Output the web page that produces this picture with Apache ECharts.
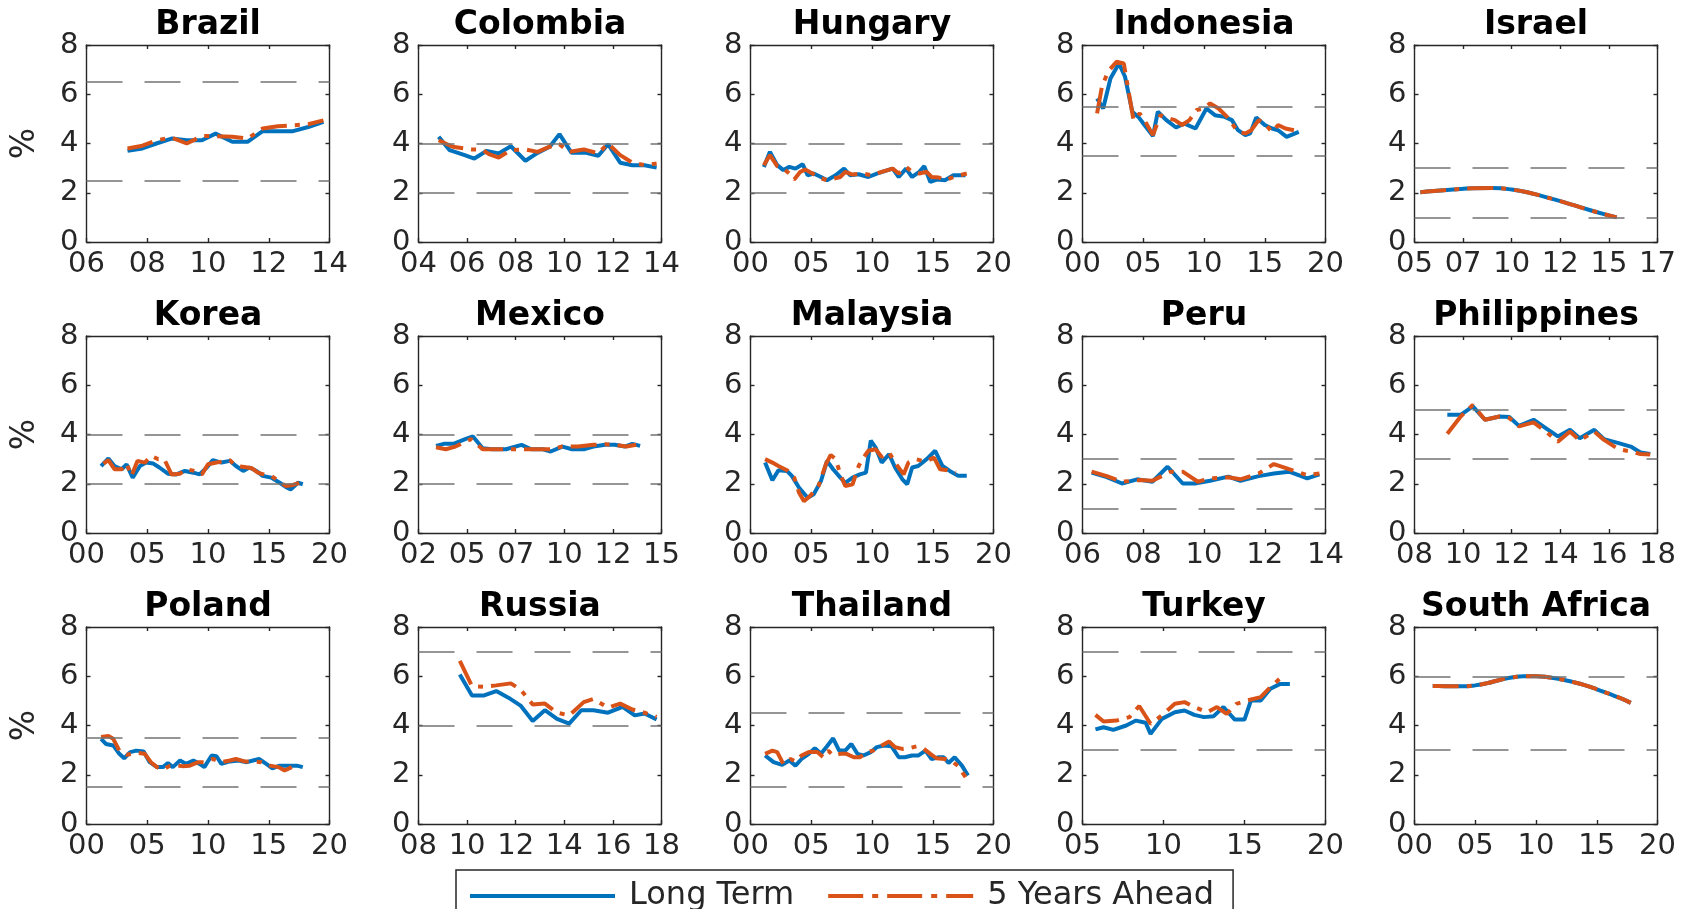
<!DOCTYPE html>
<html><head><meta charset="utf-8">
<script src="https://cdn.jsdelivr.net/npm/echarts@6/dist/echarts.min.js"></script>
<style>html,body{margin:0;padding:0;background:#fff}#c{width:1681px;height:909px}</style>
</head><body><div id="c"></div>
<script>
const countries = ['Brazil','Colombia','Hungary','Indonesia','Israel','Korea','Mexico','Malaysia','Peru','Philippines','Poland','Russia','Thailand','Turkey','South Africa'];
const xMin  = [2006,2004,2000,2000,2005, 2000,2002.5,2000,2006,2008, 2000,2008,2000,2005,2000];
const xMax  = [2014,2014,2020,2020,2017.5, 2020,2015,2020,2014,2018, 2020,2018,2020,2020,2020];
const xStep = [2,2,5,5,2.5, 5,2.5,5,2,2, 5,2,5,5,5];
const yTicks = [0,2,4,6,8];
const bands = [[2.5,6.5],[2,4],[2,4],[3.5,5.5],[1,3],[2,4],[2,4],[],[1,3],[3,5],[1.5,3.5],[4,7],[1.5,4.5],[3,7],[3,6]];

const brazilLT = [[2007.35,3.70],[2007.84,3.80],[2008.3,4.00],[2008.8,4.20],[2009.3,4.13],[2009.8,4.13],[2010.25,4.40],[2010.8,4.07],[2011.3,4.07],[2011.8,4.50],[2012.3,4.50],[2012.8,4.50],[2013.3,4.67],[2013.8,4.88]];
const brazil5Y = [[2007.35,3.80],[2007.84,3.91],[2008.3,4.13],[2008.8,4.24],[2009.3,4.00],[2009.8,4.30],[2010.25,4.30],[2010.8,4.27],[2011.3,4.20],[2011.8,4.61],[2012.3,4.70],[2012.8,4.74],[2013.3,4.78],[2013.8,4.94]];

const colombiaLT = [[2004.83,4.27],[2005.28,3.73],[2005.9,3.53],[2006.3,3.39],[2006.8,3.70],[2007.3,3.60],[2007.8,3.89],[2008.4,3.30],[2008.9,3.62],[2009.4,3.87],[2009.8,4.38],[2010.3,3.62],[2010.9,3.62],[2011.4,3.50],[2011.8,3.97],[2012.3,3.22],[2012.8,3.12],[2013.3,3.12],[2013.8,3.02]];
const colombia5Y = [[2004.83,4.13],[2005.4,3.87],[2006.2,3.76],[2006.6,3.76],[2006.9,3.57],[2007.3,3.43],[2007.8,3.73],[2008.4,3.76],[2008.9,3.66],[2009.4,3.87],[2009.8,3.97],[2010.2,3.66],[2010.8,3.76],[2011.4,3.60],[2011.8,4.00],[2012.3,3.53],[2012.8,3.22],[2013.3,3.12],[2013.8,3.19]];

const hungaryLT = [[2001.1,3.05],[2001.6,3.66],[2002.2,3.12],[2002.7,2.92],[2003.2,3.05],[2003.7,2.98],[2004.3,3.16],[2004.7,2.71],[2005.2,2.78],[2005.8,2.64],[2006.3,2.51],[2007.0,2.71],[2007.7,2.98],[2008.2,2.71],[2008.9,2.75],[2009.7,2.64],[2010.4,2.78],[2011.1,2.89],[2011.7,2.98],[2012.2,2.64],[2012.8,2.98],[2013.3,2.64],[2013.9,2.85],[2014.3,3.08],[2014.8,2.44],[2015.4,2.54],[2016.0,2.51],[2016.7,2.71],[2017.7,2.71]];
const hungary5Y = [[2001.1,3.12],[2001.6,3.53],[2002.2,3.08],[2002.7,2.98],[2003.2,2.78],[2003.6,2.54],[2004.1,2.85],[2004.5,2.94],[2005.1,2.78],[2005.6,2.62],[2006.3,2.51],[2007.4,2.64],[2007.8,2.85],[2008.4,2.74],[2009.2,2.78],[2010.0,2.71],[2010.8,2.85],[2011.7,2.98],[2012.2,2.78],[2012.8,3.05],[2013.3,2.85],[2013.9,2.78],[2014.5,2.85],[2014.9,2.64],[2015.5,2.62],[2016.0,2.51],[2016.7,2.64],[2017.8,2.78]];

const indonesiaLT = [[2001.2,5.83],[2001.7,5.42],[2002.3,6.64],[2003.0,7.25],[2003.5,6.71],[2004.1,5.29],[2004.6,5.08],[2005.1,4.75],[2005.8,4.30],[2006.2,5.29],[2006.9,4.95],[2007.7,4.65],[2008.4,4.81],[2009.3,4.61],[2010.2,5.42],[2010.9,5.15],[2011.7,5.08],[2012.3,4.95],[2012.8,4.54],[2013.4,4.34],[2013.8,4.41],[2014.3,5.06],[2015.0,4.75],[2015.6,4.61],[2016.1,4.54],[2016.8,4.27],[2017.8,4.47]];
const indonesia5Y = [[2001.2,5.22],[2001.6,6.31],[2002.1,6.92],[2002.8,7.32],[2003.4,7.25],[2003.8,6.10],[2004.2,4.95],[2004.7,5.22],[2005.1,4.95],[2005.8,4.34],[2006.4,5.15],[2007.1,5.02],[2007.6,4.95],[2008.2,4.75],[2008.8,4.95],[2009.4,5.36],[2010.0,5.42],[2010.5,5.63],[2011.2,5.42],[2011.9,5.08],[2012.4,4.75],[2012.8,4.47],[2013.4,4.41],[2013.9,4.54],[2014.5,4.95],[2015.0,4.81],[2015.6,4.47],[2016.1,4.75],[2016.7,4.61],[2017.4,4.54]];

const israelLT = [[2005.3,2.02],[2006,2.07],[2007,2.13],[2008,2.18],[2009,2.19],[2010,2.13],[2011,1.98],[2012,1.77],[2013,1.54],[2014,1.30],[2015,1.08],[2015.4,1.00]];
const israel5Y = [[2005.3,2.02],[2006,2.07],[2007,2.13],[2008,2.18],[2009,2.19],[2010,2.13],[2011,1.98],[2012,1.77],[2013,1.54],[2014,1.30],[2015,1.08],[2015.4,1.00]];

const koreaLT = [[2001.2,2.72],[2001.8,3.03],[2002.3,2.72],[2002.9,2.59],[2003.3,2.79],[2003.8,2.25],[2004.4,2.72],[2004.9,2.86],[2005.5,2.82],[2006.0,2.66],[2006.7,2.41],[2007.4,2.38],[2008.1,2.52],[2008.8,2.45],[2009.3,2.38],[2009.9,2.66],[2010.4,2.96],[2011.1,2.86],[2011.8,2.93],[2012.3,2.72],[2012.9,2.52],[2013.4,2.66],[2014.0,2.52],[2014.5,2.32],[2015.2,2.25],[2015.9,2.04],[2016.4,1.87],[2016.8,1.77],[2017.4,2.04],[2017.8,1.98]];
const korea5Y = [[2001.4,2.82],[2001.8,2.96],[2002.3,2.59],[2002.9,2.59],[2003.3,2.82],[2003.7,2.32],[2004.2,2.93],[2004.8,2.86],[2005.3,3.13],[2005.9,3.00],[2006.4,3.00],[2007.0,2.38],[2007.7,2.41],[2008.2,2.59],[2008.9,2.52],[2009.5,2.38],[2010.0,2.79],[2010.7,2.86],[2011.8,2.96],[2012.3,2.72],[2013.0,2.68],[2013.6,2.63],[2014.1,2.45],[2014.7,2.36],[2015.2,2.32],[2015.9,2.08],[2016.4,1.91],[2017.0,1.95],[2017.5,2.04]];

const mexicoLT = [[2003.4,3.54],[2003.8,3.62],[2004.3,3.62],[2004.9,3.81],[2005.3,3.92],[2005.8,3.44],[2006.3,3.40],[2007.0,3.40],[2007.8,3.58],[2008.3,3.40],[2008.9,3.40],[2009.3,3.31],[2009.9,3.51],[2010.4,3.40],[2011.0,3.40],[2011.5,3.51],[2012.1,3.58],[2012.6,3.58],[2013.1,3.51],[2013.5,3.62],[2013.9,3.54]];
const mexico5Y = [[2003.4,3.48],[2003.9,3.40],[2004.4,3.51],[2005.2,3.81],[2005.8,3.40],[2007.0,3.40],[2007.8,3.40],[2008.3,3.40],[2009.3,3.40],[2009.9,3.51],[2010.7,3.51],[2011.5,3.58],[2012.1,3.60],[2012.6,3.58],[2013.2,3.51],[2013.7,3.58]];

const malaysiaLT = [[2001.2,2.86],[2001.8,2.14],[2002.3,2.55],[2003.0,2.52],[2003.4,2.32],[2004.0,1.84],[2004.7,1.43],[2005.2,1.57],[2005.8,2.11],[2006.3,2.93],[2006.8,2.59],[2007.4,2.25],[2007.8,2.04],[2008.4,2.25],[2009.0,2.38],[2009.5,2.45],[2009.9,3.75],[2010.3,3.47],[2010.8,2.86],[2011.4,3.20],[2011.9,2.66],[2012.5,2.18],[2012.9,1.98],[2013.3,2.66],[2013.8,2.72],[2014.5,3.00],[2015.2,3.34],[2015.8,2.72],[2016.4,2.52],[2017.1,2.32],[2017.8,2.32]];
const malaysia5Y = [[2001.2,3.00],[2001.8,2.86],[2002.3,2.72],[2003.0,2.55],[2003.6,2.25],[2004.0,1.63],[2004.4,1.29],[2004.9,1.50],[2005.6,1.91],[2006.2,2.79],[2006.6,3.17],[2007.0,3.00],[2007.4,2.38],[2007.8,1.91],[2008.4,1.98],[2008.9,2.72],[2009.3,3.06],[2009.7,3.34],[2010.3,3.40],[2010.8,3.09],[2011.4,3.27],[2011.9,2.86],[2012.6,2.38],[2013.0,2.86],[2013.6,3.00],[2014.4,2.90],[2015.1,3.06],[2015.6,2.59],[2016.2,2.55],[2016.9,2.45]];

const peruLT = [[2006.3,2.45],[2006.8,2.27],[2007.3,2.01],[2007.8,2.18],[2008.3,2.08],[2008.8,2.69],[2009.3,2.01],[2009.7,2.01],[2010.2,2.12],[2010.8,2.29],[2011.2,2.12],[2011.8,2.31],[2012.3,2.42],[2012.8,2.49],[2013.4,2.22],[2013.8,2.38]];
const peru5Y = [[2006.3,2.49],[2006.8,2.31],[2007.3,2.08],[2007.9,2.15],[2008.3,2.12],[2008.9,2.49],[2009.3,2.49],[2009.8,2.08],[2010.2,2.22],[2010.8,2.26],[2011.2,2.18],[2011.8,2.42],[2012.3,2.80],[2012.8,2.59],[2013.4,2.35],[2013.8,2.42]];

const philippinesLT = [[2009.35,4.80],[2009.9,4.80],[2010.4,5.14],[2010.9,4.60],[2011.5,4.73],[2011.9,4.71],[2012.3,4.35],[2012.9,4.60],[2013.4,4.26],[2013.9,3.92],[2014.4,4.19],[2014.8,3.85],[2015.4,4.19],[2015.8,3.81],[2016.4,3.65],[2016.9,3.51],[2017.3,3.27],[2017.7,3.21]];
const philippines5Y = [[2009.35,4.03],[2009.9,4.73],[2010.4,5.20],[2010.9,4.60],[2011.5,4.73],[2011.9,4.67],[2012.3,4.33],[2012.9,4.49],[2013.4,4.12],[2013.9,3.71],[2014.4,4.12],[2014.8,3.76],[2015.4,4.12],[2015.8,3.78],[2016.4,3.40],[2016.9,3.31],[2017.3,3.21],[2017.7,3.19]];

const polandLT = [[2001.2,3.46],[2001.6,3.25],[2002.2,3.19],[2002.7,2.85],[2003.1,2.67],[2003.6,2.92],[2004.1,2.98],[2004.7,2.94],[2005.2,2.51],[2005.8,2.31],[2006.3,2.31],[2006.7,2.48],[2007.1,2.31],[2007.7,2.58],[2008.2,2.44],[2008.8,2.58],[2009.3,2.44],[2009.7,2.31],[2010.3,2.78],[2010.7,2.75],[2011.1,2.44],[2011.8,2.54],[2012.5,2.58],[2013.2,2.51],[2013.7,2.58],[2014.2,2.64],[2014.8,2.44],[2015.3,2.26],[2015.9,2.37],[2016.6,2.37],[2017.3,2.37],[2017.8,2.31]];
const poland5Y = [[2001.2,3.53],[2001.8,3.57],[2002.2,3.46],[2002.7,2.98],[2003.3,2.81],[2003.7,2.85],[2004.2,2.89],[2004.8,2.85],[2005.3,2.51],[2005.8,2.31],[2006.3,2.21],[2006.8,2.35],[2007.4,2.37],[2007.9,2.35],[2008.5,2.37],[2009.2,2.51],[2009.7,2.51],[2010.4,2.64],[2011.1,2.51],[2011.8,2.58],[2012.3,2.64],[2013.0,2.54],[2013.7,2.54],[2014.4,2.51],[2015.1,2.37],[2015.8,2.31],[2016.3,2.17],[2016.9,2.31]];

const russiaLT = [[2009.7,6.07],[2010.2,5.22],[2010.7,5.22],[2011.2,5.40],[2011.7,5.13],[2012.2,4.81],[2012.7,4.18],[2013.2,4.62],[2013.7,4.27],[2014.2,4.08],[2014.7,4.62],[2015.2,4.62],[2015.8,4.52],[2016.4,4.76],[2016.9,4.41],[2017.3,4.49],[2017.8,4.24]];
const russia5Y = [[2009.7,6.62],[2010.2,5.60],[2010.7,5.57],[2011.2,5.63],[2011.8,5.71],[2012.2,5.46],[2012.7,4.85],[2013.2,4.89],[2013.7,4.52],[2014.2,4.41],[2014.8,4.95],[2015.2,5.08],[2015.8,4.72],[2016.3,4.89],[2016.8,4.65],[2017.3,4.52],[2017.8,4.35]];

const thailandLT = [[2001.2,2.78],[2001.9,2.51],[2002.6,2.40],[2003.2,2.58],[2003.7,2.37],[2004.2,2.64],[2004.8,2.85],[2005.3,3.08],[2005.8,2.85],[2006.3,3.16],[2006.8,3.48],[2007.3,2.98],[2007.8,2.98],[2008.3,3.25],[2008.8,2.85],[2009.3,2.78],[2009.9,2.92],[2010.4,3.12],[2011.0,3.19],[2011.6,3.16],[2012.2,2.71],[2012.7,2.71],[2013.3,2.78],[2013.8,2.78],[2014.4,2.98],[2014.9,2.64],[2015.5,2.71],[2015.9,2.71],[2016.3,2.48],[2016.8,2.71],[2017.4,2.37],[2017.9,1.97]];
const thailand5Y = [[2001.2,2.85],[2001.8,2.98],[2002.2,2.92],[2002.7,2.44],[2003.3,2.64],[2003.7,2.54],[2004.2,2.78],[2004.8,2.92],[2005.5,2.92],[2006.0,2.71],[2006.4,2.98],[2006.8,2.78],[2007.4,2.85],[2007.9,2.85],[2008.5,2.71],[2009.0,2.71],[2009.6,2.92],[2010.1,2.98],[2010.8,3.19],[2011.4,3.35],[2011.9,3.12],[2012.5,3.05],[2013.1,3.08],[2013.7,3.16],[2014.2,3.08],[2014.8,2.85],[2015.3,2.67],[2016.0,2.64],[2016.6,2.54],[2017.1,2.35],[2017.7,1.90]];

const turkeyLT = [[2005.8,3.84],[2006.3,3.93],[2006.9,3.82],[2007.7,4.00],[2008.3,4.20],[2008.9,4.11],[2009.2,3.66],[2009.9,4.27],[2010.7,4.54],[2011.3,4.61],[2011.9,4.43],[2012.5,4.34],[2013.1,4.38],[2013.7,4.75],[2014.4,4.24],[2015.0,4.24],[2015.4,5.02],[2016.0,5.02],[2016.6,5.49],[2017.2,5.69],[2017.8,5.69]];
const turkey5Y = [[2005.8,4.43],[2006.3,4.16],[2007.1,4.20],[2007.9,4.34],[2008.5,4.79],[2009.2,4.07],[2009.9,4.41],[2010.7,4.88],[2011.3,4.95],[2011.9,4.75],[2012.7,4.54],[2013.3,4.75],[2013.9,4.47],[2014.5,4.88],[2015.2,5.02],[2016.0,5.15],[2016.6,5.56],[2017.4,6.03]];

const safricaLT = [[2001.5,5.60],[2002,5.60],[2003,5.59],[2004,5.59],[2005,5.63],[2006,5.72],[2007,5.85],[2008,5.95],[2009,6.00],[2010,6.00],[2011,5.96],[2012,5.88],[2013,5.77],[2014,5.64],[2015,5.47],[2016,5.29],[2017,5.10],[2017.8,4.92]];
const safrica5Y = [[2001.5,5.60],[2002,5.60],[2003,5.59],[2004,5.59],[2005,5.63],[2006,5.72],[2007,5.85],[2008,5.95],[2009,6.00],[2010,6.00],[2011,5.96],[2012,5.88],[2013,5.77],[2014,5.64],[2015,5.47],[2016,5.29],[2017,5.10],[2017.8,4.92]];

const seriesLT = [brazilLT,colombiaLT,hungaryLT,indonesiaLT,israelLT,koreaLT,mexicoLT,malaysiaLT,peruLT,philippinesLT,polandLT,russiaLT,thailandLT,turkeyLT,safricaLT];
const series5Y = [brazil5Y,colombia5Y,hungary5Y,indonesia5Y,israel5Y,korea5Y,mexico5Y,malaysia5Y,peru5Y,philippines5Y,poland5Y,russia5Y,thailand5Y,turkey5Y,safrica5Y];
const smoothed = [false,false,false,false,true,false,false,false,false,false,false,false,false,false,true];

const BLUE = '#0072BD', ORANGE = '#D95319', AX = '#262626';
const FONT = 'DejaVu Sans';
const G = {left0: 86.5, top0: 45, dx: 332, dy: 291, w: 243, h: 197};

const grids = [], xAxes = [], yAxes = [], series = [], titles = [];
const yr2 = v => String(Math.floor(v + 1e-6) % 100).padStart(2, '0');

countries.forEach((name, i) => {
  const r = Math.floor(i / 5), c = i % 5;
  const left = G.left0 + c * G.dx, top = G.top0 + r * G.dy;
  grids.push({left, top, width: G.w, height: G.h, containLabel: false});
  titles.push({text: name, left: left + G.w / 2, top: top - 36, textAlign: 'center', padding: 0,
    textStyle: {fontFamily: FONT, fontWeight: 'bold', fontSize: 33, color: '#000'}});
  const axLine = {show: true, onZero: false, lineStyle: {color: AX, width: 1.4}};
  const tick = {show: true, inside: true, length: 4, lineStyle: {color: AX, width: 1.4}};
  xAxes.push({type: 'value', gridIndex: i, position: 'bottom', min: xMin[i], max: xMax[i], interval: xStep[i],
    axisLine: axLine, axisTick: tick, splitLine: {show: false},
    axisLabel: {formatter: yr2, fontFamily: FONT, fontSize: 29, color: AX, margin: 8, showMinLabel: true, showMaxLabel: true}});
  xAxes.push({type: 'value', gridIndex: i, position: 'top', min: xMin[i], max: xMax[i], interval: xStep[i],
    axisLine: axLine, axisTick: tick, splitLine: {show: false}, axisLabel: {show: false}});
  yAxes.push({type: 'value', gridIndex: i, position: 'left', min: yTicks[0], max: yTicks[yTicks.length - 1], interval: yTicks[1] - yTicks[0],
    axisLine: axLine, axisTick: tick, splitLine: {show: false},
    name: c === 0 ? '%' : '', nameLocation: 'middle', nameGap: 45, nameRotate: 90,
    nameTextStyle: {fontFamily: FONT, fontSize: 33, color: AX},
    axisLabel: {fontFamily: FONT, fontSize: 29, color: AX, margin: 8}});
  yAxes.push({type: 'value', gridIndex: i, position: 'right', min: 0, max: 8, interval: 2,
    axisLine: axLine, axisTick: tick, splitLine: {show: false}, axisLabel: {show: false}});
  series.push({name: 'Long Term', type: 'line', xAxisIndex: 2 * i, yAxisIndex: 2 * i, data: seriesLT[i],
    symbol: 'none', smooth: smoothed[i], color: BLUE, lineStyle: {color: BLUE, width: 4}, z: 3,
    markLine: {silent: true, symbol: 'none', label: {show: false}, animation: false,
      lineStyle: {color: '#737373', width: 1.7, type: [36, 22]},
      data: bands[i].map(v => ({yAxis: v}))}});
  series.push({name: '5 Years Ahead', type: 'line', xAxisIndex: 2 * i, yAxisIndex: 2 * i, data: series5Y[i],
    symbol: 'none', smooth: smoothed[i], color: ORANGE, lineStyle: {color: ORANGE, width: 4, type: [26, 8, 5, 8]}, z: 4});
});

const chart = echarts.init(document.getElementById('c'), null, {renderer: 'canvas'});
chart.setOption({
  animation: false,
  backgroundColor: '#fff',
  title: titles,
  grid: grids,
  xAxis: xAxes,
  yAxis: yAxes,
  series: series,
  legend: {
    data: [
      {name: 'Long Term', lineStyle: {color: BLUE, width: 4, type: 'solid'}},
      {name: '5 Years Ahead', lineStyle: {color: ORANGE, width: 4, type: [35, 9, 6, 9]}}
    ],
    left: 456, top: 870, orient: 'horizontal',
    itemWidth: 145, itemHeight: 16, itemGap: 32,
    itemStyle: {color: 'transparent', borderColor: 'transparent', borderWidth: 0, opacity: 0},
    lineStyle: {width: 4},
    padding: [10, 19, 14, 12], borderColor: AX, borderWidth: 1.5, backgroundColor: '#fff',
    textStyle: {fontFamily: FONT, fontSize: 32, color: AX, padding: [0, 0, 0, 9]}}
});
</script></body></html>
